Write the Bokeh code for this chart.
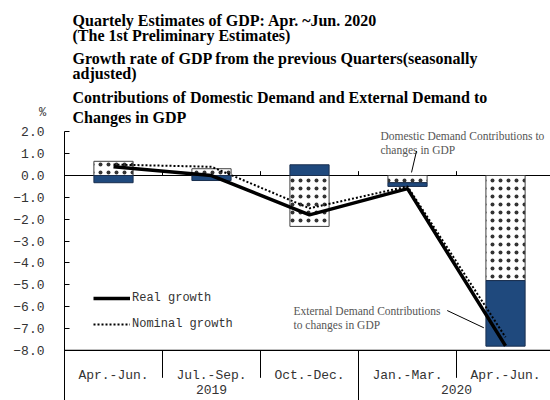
import numpy as np
from bokeh.plotting import figure
from bokeh.models import Range1d, FixedTicker, Legend, LegendItem
from bokeh.core.properties import value
from bokeh.embed import file_html
from bokeh.resources import INLINE

# ---------------- data ----------------
categories = ["Apr.-Jun.", "Jul.-Sep.", "Oct.-Dec.", "Jan.-Mar.", "Apr.-Jun."]
years = ["2019", "2019", "2019", "2020", "2020"]
domestic = [0.65, 0.31, -2.33, -0.33, -4.81]
external = [-0.33, -0.23, 0.49, -0.17, -3.00]
real_growth = [0.4, 0.0, -1.8, -0.6, -7.8]
nominal_growth = [0.5, 0.4, -1.5, -0.5, -7.4]
y_ticks = [2, 1, 0, -1, -2, -3, -4, -5, -6, -7, -8]

title_lines = [
    "Quartely Estimates of GDP: Apr. ~Jun. 2020",
    "(The 1st Preliminary  Estimates)",
    "Growth  rate of GDP from the previous Quarters(seasonally",
    "adjusted)",
    "Contributions  of Domestic Demand and External Demand to",
    "Changes in GDP",
]
dom_note = ["Domestic Demand Contributions to", "changes in GDP"]
ext_note = ["External  Demand Contributions", "to changes in GDP"]

# ---------------- derived positions ----------------
n = len(categories)
xc = np.arange(n) + 0.5
dom = np.array(domestic)
ext = np.array(external)
ext_bottom = np.where(np.sign(ext) == np.sign(dom), dom, 0.0)
ext_top = ext_bottom + ext

X_MIN, X_MAX = -0.653, 4.959
Y_MIN, Y_MAX = -10.297, 8.009
AX_MIN = min(y_ticks)

p = figure(width=550, height=400, output_backend="svg", toolbar_location=None,
           x_range=Range1d(X_MIN, X_MAX), y_range=Range1d(Y_MIN, Y_MAX),
           min_border_left=0, min_border_right=0, min_border_top=0,
           min_border_bottom=0)
p.xaxis.visible = False
p.xgrid.visible = False
p.ygrid.visible = False
p.outline_line_color = None
p.background_fill_color = "white"

# y axis, drawn at x = 0
ya = p.yaxis[0]
ya.fixed_location = 0
ya.bounds = (Y_MIN, max(y_ticks))
ya.ticker = FixedTicker(ticks=y_ticks)
ya.major_label_overrides = {float(t): ("%.1f" % t).replace("-", "\u2212") for t in y_ticks}
ya.major_tick_in = 5
ya.major_tick_out = 0
ya.minor_tick_line_color = None
ya.major_label_standoff = 20
ya.axis_line_color = "black"
ya.major_tick_line_color = "black"
ya.major_label_text_font = "Liberation Mono"
ya.major_label_text_font_size = "13px"
ya.major_label_text_color = "#333333"

# zero line and bottom line (start at the y axis)
p.segment(x0=[0, 0], y0=[0, AX_MIN], x1=[n, n], y1=[0, AX_MIN],
          line_color="black", line_width=[1, 1.2])

bounds = np.arange(1, n)
p.segment(x0=bounds, y0=np.zeros(len(bounds)), x1=bounds, y1=np.full(len(bounds), 0.2),
          line_color="black", line_width=1)

year_change = np.array([years[i] != years[i - 1] for i in range(1, n)])
div_bottom = np.where(year_change, Y_MIN, AX_MIN - 1.26)
p.segment(x0=bounds, y0=np.full(len(bounds), AX_MIN), x1=bounds, y1=div_bottom,
          line_color="black", line_width=1)

# category labels
p.text(x=xc, y=np.full(n, AX_MIN - 1.15), text=categories, text_align="center",
       text_baseline="middle", text_font=value("Liberation Mono"),
       text_font_size="13px", text_color="#333333")
uy = list(dict.fromkeys(years))
yx = [float(np.mean(xc[[i for i in range(n) if years[i] == yy]])) for yy in uy]
p.text(x=yx, y=np.full(len(uy), AX_MIN - 1.61), text=uy, text_align="center",
       text_baseline="top", text_font=value("Liberation Mono"),
       text_font_size="13px", text_color="#333333")

# bars
p.vbar(x=xc, bottom=np.zeros(n), top=dom, width=0.4, fill_color="white",
       line_color="#404040", line_width=1, hatch_pattern="dot", hatch_scale=8,
       hatch_weight=1.0, hatch_color="#333333")
p.vbar(x=xc, bottom=ext_bottom, top=ext_top, width=0.4, fill_color="#1F497D",
       line_color="#1a2f4f", line_width=1)

# lines
r_nom = p.line(xc, nominal_growth, line_color="black", line_width=2, line_dash="2 2")
r_real = p.line(xc, real_growth, line_color="black", line_width=3.5)

legend = Legend(items=[LegendItem(label="Real growth", renderers=[r_real]),
                       LegendItem(label="Nominal growth", renderers=[r_nom])],
                location=(93, 67), glyph_width=37, glyph_height=18, label_height=18,
                spacing=8, label_standoff=2, padding=0, margin=0,
                border_line_color=None, background_fill_alpha=0,
                label_text_font="Liberation Mono", label_text_font_size="12px",
                label_text_color="#333333")
p.add_layout(legend)

# annotation notes
p.text(x=[3.224, 3.224], y=[1.83, 1.19], text=dom_note, text_baseline="middle",
       text_font=value("Liberation Serif"), text_font_size="11.5px", text_color="#555555")
p.segment(x0=[3.592], y0=[1.12], x1=[3.541], y1=[0.14], line_color="black", line_width=1)
p.text(x=[2.337, 2.337], y=[-6.21, -6.83], text=ext_note, text_baseline="middle",
       text_font=value("Liberation Serif"), text_font_size="11.5px", text_color="#555555")
p.segment(x0=[3.905], y0=[-6.18], x1=[4.279], y1=[-6.97], line_color="black", line_width=1)

# titles
ty = [7.094, 6.407, 5.355, 4.668, 3.57, 2.654]
p.text(x=np.full(len(title_lines), 0.082), y=ty, text=title_lines, text_baseline="middle",
       text_font=value("Liberation Serif"), text_font_size="16px",
       text_font_style="bold", text_color="black")

# unit
p.text(x=[-0.224], y=[2.84], text=["%"], text_align="center", text_baseline="middle",
       text_font=value("Liberation Mono"), text_font_size="12px", text_color="#333333")

open("out.html", "w").write(file_html(p, INLINE))
